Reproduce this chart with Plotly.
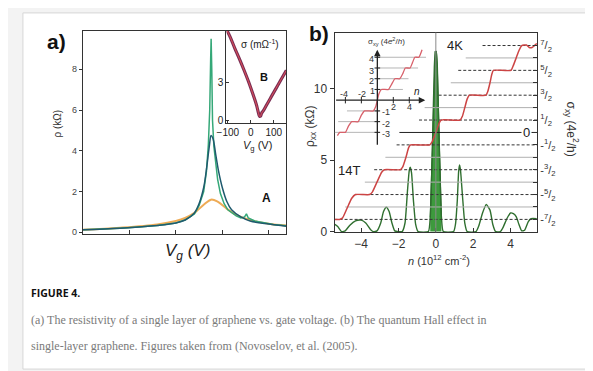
import plotly.graph_objects as go

W, H = 593, 371
def fx(px): return px / W
def fy(py): return 1 - py / H

SANS = "Liberation Sans, Arial, sans-serif"
SERIF = "Liberation Serif, Times New Roman, serif"

# ---------------- Panel a: resistivity vs gate voltage ----------------
va_green = [-100, -80, -60, -40, -20, 0, 10, 20, 25, 30, 33, 35, 36.5, 37.5, 38, 38.7, 39.5, 41, 43, 45, 48, 52, 56, 60, 65, 70, 74, 76, 78, 85, 95, 105, 119]
rho_green = [0.12, 0.15, 0.2, 0.26, 0.33, 0.45, 0.6, 0.9, 1.3, 2.0, 3.0, 4.3, 6.0, 8.5, 9.5, 8.0, 5.5, 4.2, 3.3, 2.6, 1.9, 1.4, 1.1, 0.95, 0.8, 0.7, 0.75, 0.9, 0.7, 0.55, 0.45, 0.38, 0.32]

va_dark = [-100, -60, -20, 0, 10, 20, 25, 30, 33, 36, 38, 40, 43, 46, 50, 55, 60, 70, 80, 100, 119]
rho_dark = [0.12, 0.2, 0.33, 0.45, 0.6, 0.95, 1.4, 2.2, 3.1, 4.2, 4.75, 4.6, 3.8, 3.0, 2.2, 1.5, 1.1, 0.75, 0.55, 0.4, 0.3]

va_orange = [-100, -60, -20, 0, 10, 20, 30, 38, 45, 55, 65, 80, 100, 119]
rho_orange = [0.12, 0.22, 0.38, 0.55, 0.7, 0.95, 1.35, 1.6, 1.5, 1.15, 0.85, 0.6, 0.42, 0.33]

# inset B: conductivity
vb = [-106, -90, -70, -50, -30, -10, 10, 25, 33, 38, 42, 47, 55, 70, 90, 110, 130, 155]
sigma_b = [7.3, 6.7, 5.8, 4.95, 4.05, 3.1, 2.05, 1.2, 0.6, 0.3, 0.3, 0.55, 0.75, 1.25, 1.9, 2.55, 3.2, 4.0]

# ---------------- Panel b: quantum Hall effect ----------------
n_rho = [-5.4, -5.25, -5.05, -4.85, -4.6, -4.3, -4.0, -3.75, -3.5, -3.35, -3.15, -2.95, -2.8, -2.65, -2.5, -2.35, -2.2, -2.0,
         -1.8, -1.65, -1.52, -1.42, -1.37, -1.3, -1.2, -1.08, -0.95, -0.4, -0.3, -0.18, -0.08, -0.03, 0.0, 0.03, 0.08, 0.18,
         0.3, 0.4, 0.95, 1.05, 1.15, 1.22, 1.27, 1.32, 1.42, 1.55, 1.68, 2.15, 2.3, 2.5, 2.7, 2.9, 3.05, 3.2, 3.45, 3.6, 3.8,
         4.0, 4.15, 4.3, 4.45, 4.6, 4.75, 4.95, 5.1, 5.4]
rho_xx = [0.5, 0.35, 0.0, 0.05, 0.45, 0.75, 0.8, 0.6, 0.15, 0.0, 0.05, 0.6, 1.4, 1.7, 1.4, 0.6, 0.05, 0.0,
          0.0, 0.6, 2.8, 4.3, 4.5, 4.1, 2.2, 0.5, 0.0, 0.0, 1.0, 6.0, 11.5, 12.6, 12.2, 12.6, 11.5, 6.0,
          1.0, 0.0, 0.0, 0.5, 2.2, 4.2, 4.66, 4.3, 2.6, 0.6, 0.0, 0.0, 0.4, 1.3, 1.9, 1.5, 0.5, 0.0, 0.0, 0.3, 0.9,
          1.3, 1.25, 1.05, 0.5, 0.05, 0.1, 0.7, 0.9, 0.9]

n_sxy = [-5.4, -5.15, -5.0, -4.75, -4.5, -4.3, -3.55, -3.4, -3.15, -2.9, -2.75, -1.9, -1.78, -1.6, -1.45, -1.35, -0.32, -0.2, -0.05, 0.05, 0.18, 0.28, 1.3, 1.42, 1.55, 1.68, 1.8, 2.68, 2.78, 2.9, 3.0, 3.08, 4.02, 4.15, 4.3, 4.45, 4.6, 4.85, 5.0, 5.15, 5.4]
sxy = [-3.5, -3.5, -3.45, -3.05, -2.65, -2.5, -2.5, -2.4, -2.0, -1.6, -1.5, -1.5, -1.4, -1.0, -0.6, -0.5, -0.5, -0.38, -0.1, 0.1, 0.38, 0.5, 0.5, 0.65, 1.0, 1.35, 1.5, 1.5, 1.65, 2.0, 2.35, 2.5, 2.5, 2.7, 3.0, 3.3, 3.5, 3.52, 3.42, 3.42, 3.58]

levels = [3.5, 3, 2.5, 2, 1.5, 1, 0.5, 0, -0.5, -1, -1.5, -2, -2.5, -3, -3.5]
level_start = [2.5, 1.6, 1.2, 0.8, 0.15, -0.6, -0.9, -1.95, -2.1, -2.7, -3.3, -3.8, -4.3, -4.85, -5.42]

right_tickvals = [-3.5, -3, -2.5, -2, -1.5, -1, -0.5, 0, 0.5, 1, 1.5, 2, 2.5, 3, 3.5]
right_ticktext = ["-<sup>7</sup>/<sub>2</sub>", "", "-<sup>5</sup>/<sub>2</sub>", "", "-<sup>3</sup>/<sub>2</sub>", "",
                  "-<sup>1</sup>/<sub>2</sub>", "", "<sup>1</sup>/<sub>2</sub>", "", "<sup>3</sup>/<sub>2</sub>", "",
                  "<sup>5</sup>/<sub>2</sub>", "", "<sup>7</sup>/<sub>2</sub>"]

# inset of panel b (sigma_xy staircase)
n_in = [-5.0, -4.7, -4.0, -3.6, -3.2, -2.4, -2.0, -1.6, -0.5, -0.2, 0.0, 0.2, 0.5, 1.4, 1.8, 2.2, 2.8, 3.2, 3.5, 4.1, 4.4, 4.7, 5.2, 5.6]
s_in = [-3.3, -3.0, -3.0, -2.4, -2.0, -2.0, -1.4, -1.0, -1.0, -0.6, 0.0, 0.6, 1.0, 1.0, 1.5, 2.0, 2.0, 2.5, 3.0, 3.0, 3.5, 4.0, 4.0, 4.7]
in_levels = [4, 3, 2, 1, -1, -2, -3]
in_lvl_x0 = [-0.1, -0.1, -0.1, -0.1, -3.8, -4.9, -5.35]
in_lvl_x1 = [6.1, 5.1, 3.9, 3.2, 0.3, 0.3, 0.3]
in_xticks = [-4, -2, 2, 4]
in_yticks = [-3, -2, -1, 1, 2, 3, 4]

fig = go.Figure()

# panel a traces
fig.add_trace(go.Scatter(x=va_orange, y=rho_orange, mode="lines", line=dict(color="#eeab55", width=2, shape="spline"), xaxis="x", yaxis="y"))
fig.add_trace(go.Scatter(x=va_green, y=rho_green, mode="lines", line=dict(color="#35a878", width=1.5), xaxis="x", yaxis="y"))
fig.add_trace(go.Scatter(x=va_dark, y=rho_dark, mode="lines", line=dict(color="#1f5a6e", width=1.5, shape="spline"), xaxis="x", yaxis="y"))
# inset B
fig.add_trace(go.Scatter(x=vb, y=sigma_b, mode="lines", line=dict(color="#7a2f55", width=3.2, shape="spline"), xaxis="x2", yaxis="y2"))
fig.add_trace(go.Scatter(x=vb, y=sigma_b, mode="lines", line=dict(color="#e0505a", width=1, shape="spline"), xaxis="x2", yaxis="y2"))

# panel b level lines
for lvl, x0 in zip(levels, level_start):
    if lvl == 0:
        col, dash, w = "#222222", "solid", 1
    elif abs(lvl) % 1 == 0.5:
        col, dash, w = "#333333", "3px,2px", 1
    else:
        col, dash, w = "#b0b0b0", "solid", 1
    fig.add_trace(go.Scatter(x=[x0, 5.42], y=[lvl, lvl], mode="lines", line=dict(color=col, width=w, dash=dash),
                             xaxis="x3", yaxis="y4"))

# central filled peak
cn = [n for n in n_rho if abs(n) <= 0.3]
cr = [r for n, r in zip(n_rho, rho_xx) if abs(n) <= 0.3]
fig.add_trace(go.Scatter(x=cn, y=cr, mode="lines", fill="tozeroy", fillcolor="#3d9a3d", line=dict(color="#1f5f1f", width=1),
                         xaxis="x3", yaxis="y3"))
fig.add_trace(go.Scatter(x=n_rho, y=rho_xx, mode="lines", line=dict(color="#2f6f2f", width=1.4, shape="spline", smoothing=0.5),
                         xaxis="x3", yaxis="y3"))
fig.add_trace(go.Scatter(x=n_sxy, y=sxy, mode="lines", line=dict(color="#cc4444", width=1.5, shape="spline", smoothing=0.5),
                         xaxis="x3", yaxis="y4"))

# inset b
for lvl, x0, x1 in zip(in_levels, in_lvl_x0, in_lvl_x1):
    fig.add_trace(go.Scatter(x=[x0, x1], y=[lvl, lvl], mode="lines", line=dict(color="#b5b5b5", width=1), xaxis="x5", yaxis="y5"))
fig.add_trace(go.Scatter(x=n_in, y=s_in, mode="lines", line=dict(color="#d8606a", width=1.3, shape="spline", smoothing=0.5),
                         xaxis="x5", yaxis="y5"))

shapes = []
# card
shapes.append(dict(type="rect", xref="paper", yref="paper", x0=fx(5), x1=fx(590), y0=fy(367), y1=fy(5),
                   fillcolor="white", line=dict(color="#d6d6d6", width=1), layer="below"))
# n=0 vertical line panel b
shapes.append(dict(type="line", xref="x3", yref="y3 domain", x0=0, x1=0, y0=0, y1=1, line=dict(color="#8a8a8a", width=1)))
# inset b ticks
for t in in_xticks:
    shapes.append(dict(type="line", xref="x5", yref="y5", x0=t, x1=t, y0=-0.3, y1=0.3, line=dict(color="#222", width=1)))
for t in in_yticks:
    shapes.append(dict(type="line", xref="x5", yref="y5", x0=-0.35, x1=0.35, y0=t, y1=t, line=dict(color="#222", width=1)))

ann = []
def A(text, x, y, size=11, color="#222", xanchor="center", yanchor="middle", angle=0, family=SANS, **kw):
    ann.append(dict(text=text, x=fx(x), y=fy(y), xref="paper", yref="paper", showarrow=False, xanchor=xanchor,
                    yanchor=yanchor, textangle=angle, font=dict(size=size, color=color, family=family), **kw))

# panel labels
A("<b>a)</b>", 39, 34, size=21, color="#111")
A("<b>b)</b>", 306, 26, size=21, color="#111")
# panel a texts
A("ρ (kΩ)", 40, 117, size=10, angle=-90, color="#333")
A("<i>V<sub>g</sub> (V)</i>", 172, 248, size=17, color="#222")
A("<b>A</b>", 253, 193, size=12, color="#111")
A("σ (mΩ<sup>-1</sup>)", 246, 37, size=10, color="#222")
A("<b>B</b>", 250, 70, size=11, color="#111")
A("<i>V</i><sub>g</sub> (V)", 244, 140, size=11, color="#222")
# panel b texts
A("ρ<sub>xx</sub> (kΩ)", 298, 120, size=12, angle=-90, color="#333")
A("σ<sub>xy</sub> (4e<sup>2</sup>/h)", 563, 123, size=12, angle=90, color="#333")
A("<i>n</i> (10<sup>12</sup> cm<sup>-2</sup>)", 428, 256, size=11, color="#333")
A("4K", 445, 38, size=13, color="#222")
A("14T", 337, 165, size=13, color="#222")
ann.append(dict(text="0", x=4.85, y=0, xref="x3", yref="y4", showarrow=False, bgcolor="white",
                font=dict(size=13, color="#222", family=SANS)))
# inset b texts
A("σ<sub>xy</sub> (4<i>e</i><sup>2</sup>/<i>h</i>)", 375, 34, size=8, color="#333")
A("<i>n</i>", 406, 85, size=10, color="#222")
for t, px, py in zip(in_xticks, [332, 350, 382, 398], [87, 87, 101, 101]):
    A(str(t), px, py, size=9, color="#333")
for t, px, py in zip(in_yticks, [374, 374, 374, 361, 360, 360, 360], [128, 118, 106, 84, 74, 64, 52]):
    A(str(t), px, py, size=9, color="#333")
# inset b arrows (axes)
ann.append(dict(x=6.0, y=0, ax=-5.35, ay=0, xref="x5", yref="y5", axref="x5", ayref="y5", text="", showarrow=True,
                arrowhead=2, arrowsize=1, arrowwidth=1.3, arrowcolor="#222"))
ann.append(dict(x=0, y=4.7, ax=0, ay=-4.3, xref="x5", yref="y5", axref="x5", ayref="y5", text="", showarrow=True,
                arrowhead=2, arrowsize=1, arrowwidth=1.3, arrowcolor="#222"))
# caption
A("<b>FIGURE 4.</b>", 11, 290, size=10.5, color="#111", xanchor="left", family="Open Sans, sans-serif")
A("(a) The resistivity of a single layer of graphene vs. gate voltage. (b) The quantum Hall effect in", 11, 317,
  size=12, color="#7a7a7a", xanchor="left", family=SERIF)
A("single-layer graphene. Figures taken from (Novoselov, et al. (2005).", 11, 344,
  size=12, color="#7a7a7a", xanchor="left", family=SERIF)

axis_common = dict(showgrid=False, zeroline=False, linecolor="#333", linewidth=1, tickcolor="#333",
                   tickfont=dict(family=SANS, size=9, color="#444"))

fig.update_layout(
    width=W, height=H, autosize=False, margin=dict(l=0, r=0, t=0, b=0),
    paper_bgcolor="#f3f3f3", plot_bgcolor="rgba(0,0,0,0)", showlegend=False,
    font=dict(family=SANS),
    xaxis=dict(domain=[fx(66), fx(273)], range=[-100, 119], tickvals=[-50, 0, 50, 100], showticklabels=False,
               ticks="inside", ticklen=4, mirror=True, showline=True, anchor="y", **axis_common),
    yaxis=dict(domain=[fy(230), fy(23)], range=[-0.1, 9.9], tickvals=[0, 2, 4, 6, 8], ticks="outside", ticklen=3,
               mirror=True, showline=True, anchor="x", **axis_common),
    xaxis2=dict(domain=[fx(212), fx(273)], range=[-106, 155], tickvals=[-100, 0, 100], ticks="inside", ticklen=3,
                mirror=True, showline=True, anchor="y2", **{**axis_common, "tickfont": dict(family=SANS, size=10, color="#222")}),
    yaxis2=dict(domain=[fy(117), fy(23)], range=[-0.25, 7.2], tickvals=[0, 3], ticks="inside", ticklen=3,
                mirror=True, showline=True, anchor="x2", **{**axis_common, "tickfont": dict(family=SANS, size=10, color="#222")}),
    xaxis3=dict(domain=[fx(322), fx(528)], range=[-5.42, 5.42], tickvals=[-4, -2, 0, 2, 4], ticks="inside", ticklen=4,
                mirror=True, showline=True, anchor="y3", **{**axis_common, "tickfont": dict(family=SANS, size=12, color="#333")}),
    yaxis3=dict(domain=[fy(228), fy(25)], range=[-0.05, 13.9], tickvals=[0, 5, 10], ticks="outside", ticklen=4,
                showline=True, anchor="x3", **{**axis_common, "tickfont": dict(family=SANS, size=12, color="#333")}),
    yaxis4=dict(domain=[fy(228), fy(25)], range=[-4.02, 4.02], overlaying="y3", side="right", anchor="x3",
                tickvals=right_tickvals, ticktext=right_ticktext, ticks="inside", ticklen=4, showline=True,
                **{**axis_common, "tickfont": dict(family=SANS, size=11, color="#333")}),
    xaxis5=dict(domain=[fx(322), fx(418)], range=[-5.354, 6.462], visible=False, anchor="y5"),
    yaxis5=dict(domain=[fy(142), fy(36)], range=[-4.43, 5.29], visible=False, anchor="x5"),
    shapes=shapes, annotations=ann,
)

fig.write_html("out.html")
